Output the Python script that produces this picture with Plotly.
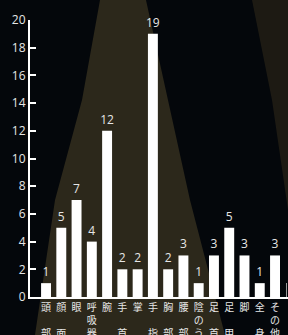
import plotly.graph_objects as go

categories = ["頭部", "顔面", "眼", "呼吸器", "腕", "手首", "掌", "手指",
              "胸部", "腰部", "陰のう", "足首", "足甲", "脚", "全身", "その他"]
values = [1, 5, 7, 4, 12, 2, 2, 19, 2, 3, 1, 3, 5, 3, 1, 3]
y_ticks = [0, 2, 4, 6, 8, 10, 12, 14, 16, 18, 20]


def vlabel(s):
    if len(s) == 2:
        return s[0] + "<br><br>" + s[1]
    return "<br>".join(s)


tick_text = [vlabel(c) for c in categories]

W, H = 288, 335
L, R, T, B = 30, 0, 20, 38


def poly(points):
    parts = []
    for i, (x, y) in enumerate(points):
        parts.append(("M" if i == 0 else "L") + f"{x / W:.4f},{1 - y / H:.4f}")
    return " ".join(parts) + " Z"


shapes = [
    dict(type="path", xref="paper", yref="paper", layer="below",
         path=poly([(100, 0), (146, 0), (168, 100), (190, 200), (225, 335), (35, 335), (55, 200), (82, 100)]),
         fillcolor="#2c281b", line=dict(width=0)),
    dict(type="path", xref="paper", yref="paper", layer="below",
         path=poly([(252, 0), (288, 0), (288, 210), (272, 100)]),
         fillcolor="#1d1a13", line=dict(width=0)),
    dict(type="line", xref="paper", yref="paper", layer="above",
         x0=286.5 / W, x1=286.5 / W, y0=1 - 283 / H, y1=1 - 297 / H,
         line=dict(color="#9a9a9a", width=1)),
]

fig = go.Figure(go.Bar(
    x=list(range(len(categories))), y=values, width=0.65,
    marker=dict(color="white", line=dict(width=0)),
    text=[str(v) for v in values], textposition="outside",
    textfont=dict(color="#e6e6e6", size=12, family="Open Sans, Noto Sans CJK JP"),
    constraintext="none", cliponaxis=False, hoverinfo="skip",
))

fig.update_layout(
    width=W, height=H,
    margin=dict(l=0, r=0, t=0, b=0, autoexpand=False),
    paper_bgcolor="#04070b", plot_bgcolor="rgba(0,0,0,0)",
    showlegend=False, shapes=shapes,
    font=dict(family="Open Sans, Noto Sans CJK JP", color="#e6e6e6"),
    xaxis=dict(domain=[L / W, 1 - R / W], range=[-1.05, 15.85], tickmode="array",
               tickvals=list(range(len(categories))), ticktext=tick_text,
               showgrid=False, zeroline=False, showline=True, linecolor="white",
               linewidth=2, ticks="", automargin=False,
               tickfont=dict(size=10, color="#e6e6e6", family="Noto Sans CJK JP")),
    yaxis=dict(domain=[B / H, 1 - T / H], range=[0, 20], tickvals=y_ticks,
               showgrid=False, zeroline=False, automargin=False,
               showline=True, linecolor="white", linewidth=2,
               ticks="inside", ticklen=6, tickwidth=2, tickcolor="white",
               tickfont=dict(size=12, color="#e6e6e6")),
)

fig.write_html("out.html", config={"displayModeBar": False},
               post_script="document.body.style.margin='0';document.body.style.background='#04070b';")
